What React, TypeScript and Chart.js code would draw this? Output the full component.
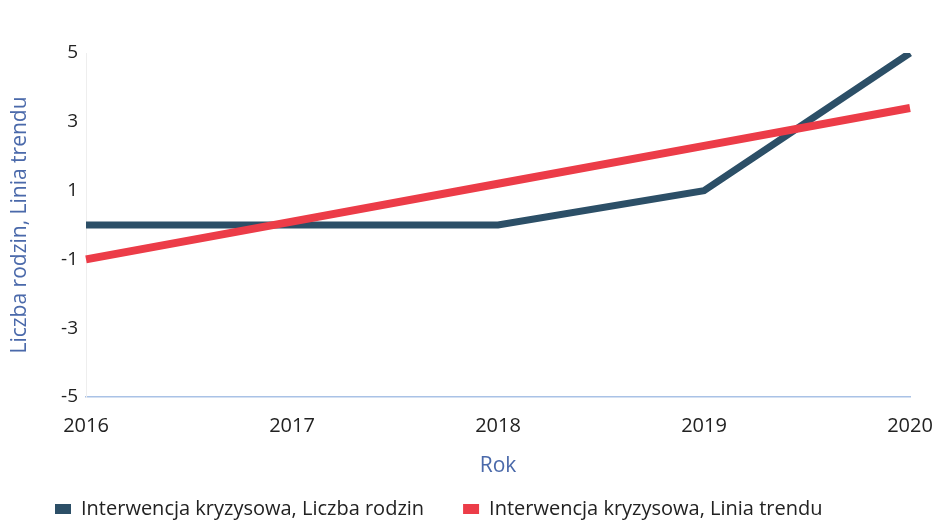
import React, { useEffect, useRef } from "react";
import { Chart, registerables } from "chart.js";

Chart.register(...registerables);

const years = ["2016", "2017", "2018", "2019", "2020"];
const familyCounts = [0, 0, 0, 1, 5];
const trendLine = [-1, 0.1, 1.2, 2.3, 3.4];
const yTicks = [-5, -3, -1, 1, 3, 5];

const seriesNames = [
  "Interwencja kryzysowa, Liczba rodzin",
  "Interwencja kryzysowa, Linia trendu",
];
const yTitle = "Liczba rodzin, Linia trendu";
const xTitle = "Rok";

const DARK = "#2c4f67";
const RED = "#ec3c48";
const TITLE_COLOR = "#4a69aa";
const FONT = "'Open Sans', 'Noto Sans', sans-serif";

export default function App() {
  const canvasRef = useRef<HTMLCanvasElement | null>(null);

  useEffect(() => {
    document.body.style.margin = "0";
    const canvas = canvasRef.current;
    if (!canvas) return;
    const chart = new Chart(canvas, {
      type: "line",
      data: {
        labels: years,
        datasets: [
          {
            label: seriesNames[0],
            data: familyCounts,
            borderColor: DARK,
            backgroundColor: DARK,
            borderWidth: 7,
            pointRadius: 0,
            tension: 0,
            order: 1,
          },
          {
            label: seriesNames[1],
            data: trendLine,
            borderColor: RED,
            backgroundColor: RED,
            borderWidth: 8,
            pointRadius: 0,
            tension: 0,
            order: 0,
          },
        ],
      },
      options: {
        animation: false,
        responsive: true,
        maintainAspectRatio: false,
        layout: { padding: { left: 16, right: 22, top: 53, bottom: 0 } },
        plugins: {
          tooltip: { enabled: false },
          legend: {
            position: "bottom",
            align: "start",
            labels: {
              boxWidth: 16,
              boxHeight: 10,
              padding: 39,
              color: "#222222",
              font: { family: FONT, size: 20 },
              sort: (a: any, b: any) => a.datasetIndex - b.datasetIndex,
              generateLabels: (c: any) =>
                (Chart.defaults.plugins.legend.labels.generateLabels as any)(c).map(
                  (l: any) => ({ ...l, lineWidth: 0 })
                ),
            },
          },
        },
        scales: {
          x: {
            type: "category",
            offset: false,
            grid: { display: false, drawTicks: false },
            border: { display: true, color: "#a9c2e6", width: 1.5 },
            ticks: {
              padding: 17,
              maxRotation: 0,
              color: "#222222",
              font: { family: FONT, size: 20 },
            },
            title: {
              display: true,
              text: xTitle,
              color: TITLE_COLOR,
              font: { family: FONT, size: 21 },
              padding: { top: 0, bottom: -19 },
            },
            afterFit: (scale: any) => {
              scale.height = 63;
              scale.paddingLeft = 0;
              scale.paddingRight = 0;
            },
          },
          y: {
            min: -5,
            max: 5,
            grid: { display: false, drawTicks: false },
            border: { display: true, color: "#eeeeee", width: 1 },
            afterBuildTicks: (axis: any) => {
              axis.ticks = yTicks.map((v) => ({ value: v }));
            },
            ticks: {
              padding: 8,
              color: "#222222",
              font: { family: FONT, size: 19 },
            },
            title: {
              display: true,
              text: yTitle,
              color: TITLE_COLOR,
              font: { family: FONT, size: 21 },
              padding: { top: -9, bottom: 0 },
            },
            afterFit: (scale: any) => {
              scale.width = 70;
            },
          },
        },
      },
    });
    return () => chart.destroy();
  }, []);

  return (
    <div style={{ position: "relative", width: 932, height: 529 }}>
      <canvas ref={canvasRef} />
    </div>
  );
}
